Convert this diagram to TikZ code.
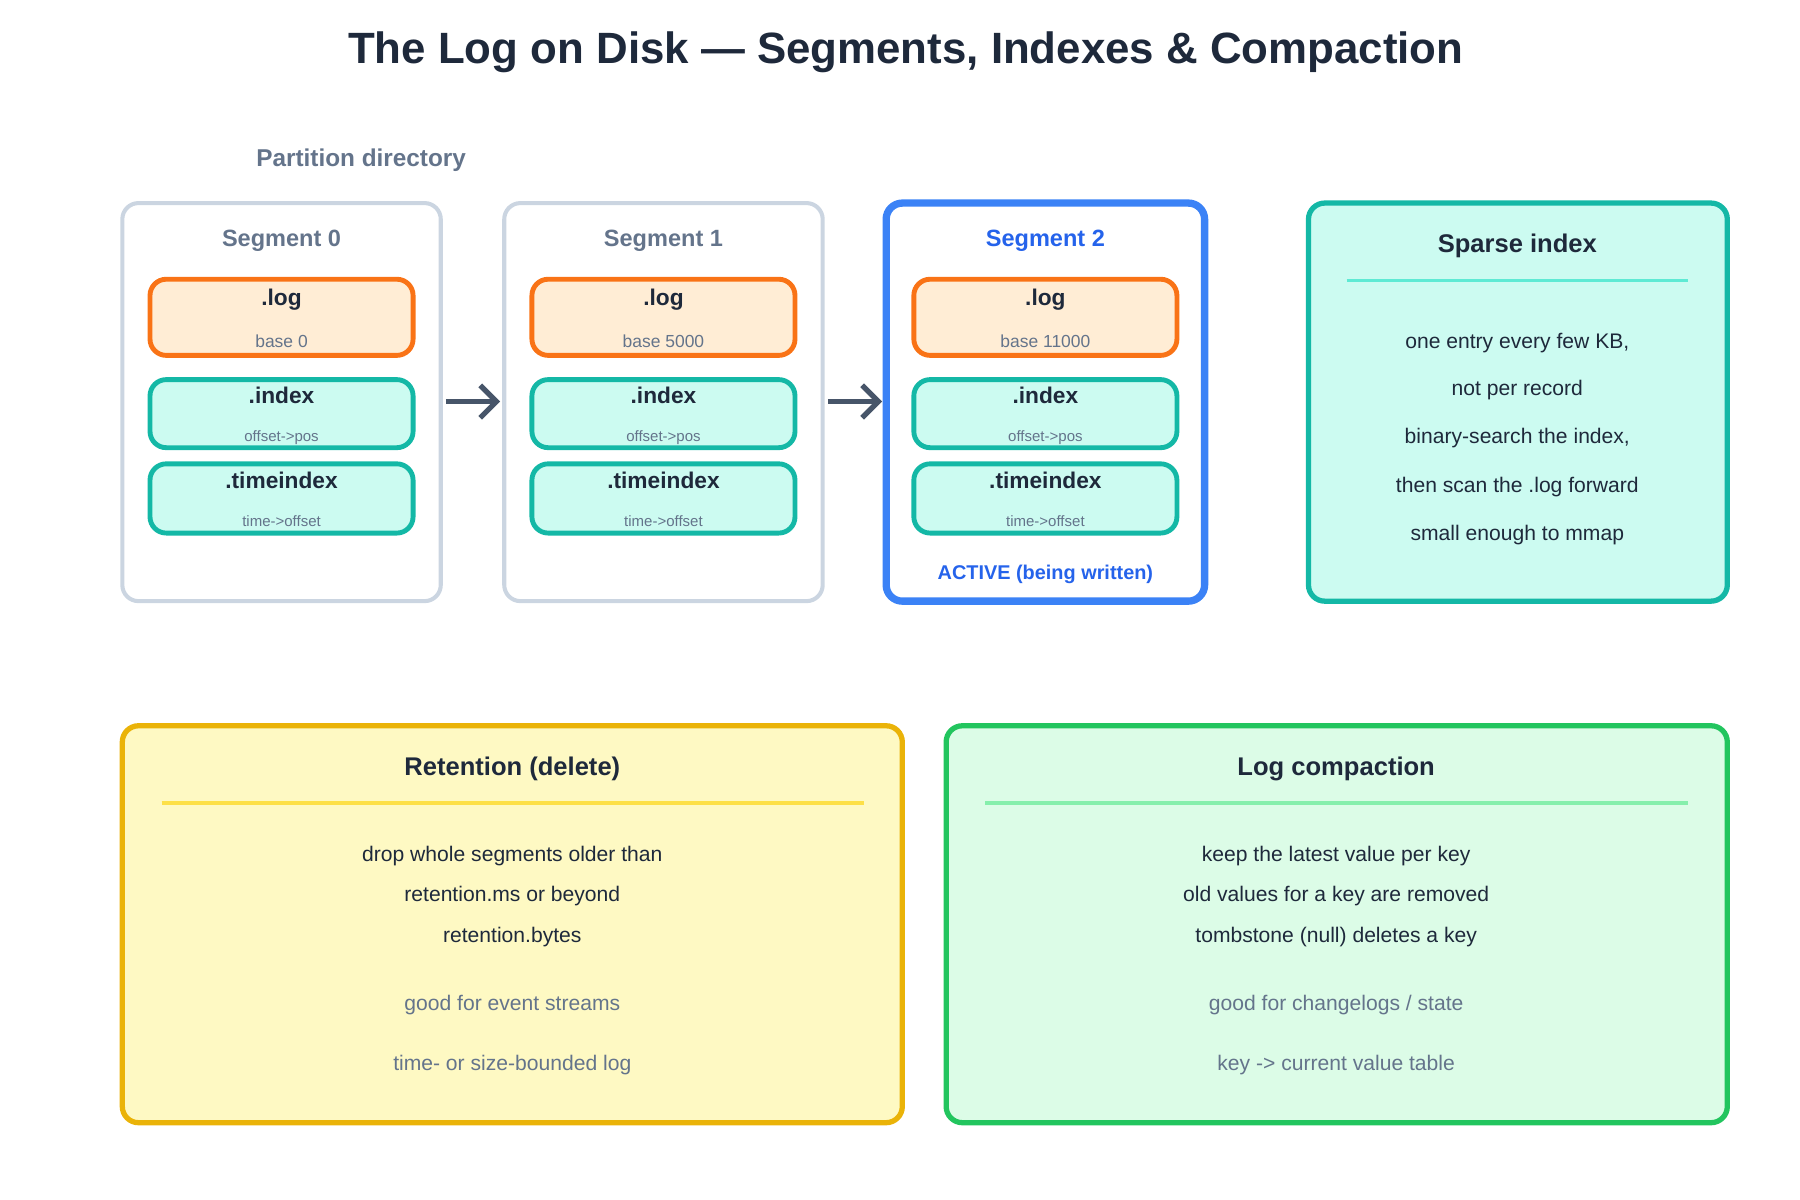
\documentclass[tikz,border=0pt]{standalone}
\usepackage{fontspec}
\setmainfont{Liberation Sans}
\usetikzlibrary{arrows.meta}
\definecolor{dark}{HTML}{1E293B}
\definecolor{gborder}{HTML}{CBD5E1}
\definecolor{gtext}{HTML}{64748B}
\definecolor{orB}{HTML}{F97316}\definecolor{orF}{HTML}{FFEDD5}
\definecolor{tlB}{HTML}{14B8A6}\definecolor{tlF}{HTML}{CCFBF1}\definecolor{tlL}{HTML}{5EEAD4}
\definecolor{blB}{HTML}{3B82F6}\definecolor{blT}{HTML}{2563EB}
\definecolor{ylB}{HTML}{EAB308}\definecolor{ylF}{HTML}{FEF9C3}\definecolor{ylL}{HTML}{FDE047}
\definecolor{grB}{HTML}{22C55E}\definecolor{grF}{HTML}{DCFCE7}\definecolor{grL}{HTML}{86EFAC}
\definecolor{arr}{HTML}{475569}
\begin{document}
\begin{tikzpicture}[x=0.01cm,y=-0.01cm,
  box/.style={rounded corners=4pt,line width=1.1pt},
  seg/.style={box,draw=gborder,line width=1pt},
  filebox/.style={box,line width=1.2pt},
  ttl/.style={font=\bfseries\fontsize{6.3}{7}\selectfont,text=dark},
  segl/.style={font=\bfseries\fontsize{5.8}{7}\selectfont,text=gtext},
  fname/.style={font=\bfseries\fontsize{5.6}{7}\selectfont,text=dark},
  fsub/.style={font=\fontsize{4.3}{5}\selectfont,text=gtext},
  fsmall/.style={font=\fontsize{3.7}{4.5}\selectfont,text=gtext},
  body/.style={font=\fontsize{5.2}{6}\selectfont,text=dark},
  gbody/.style={font=\fontsize{5.2}{6}\selectfont,text=gtext},
  ar/.style={-{Straight Barb[length=4pt,width=8pt,line width=1.3pt]},draw=arr,line width=1.3pt,shorten >=1pt,shorten <=1pt}]
\useasboundingbox (0,0) rectangle (1560,1040);
\node[font=\bfseries\fontsize{10.8}{12}\selectfont,text=dark] (title) at (785,45) {The Log on Disk — Segments, Indexes \& Compaction};
\node[font=\bfseries\fontsize{6}{7}\selectfont,text=gtext] (pd) at (313,139) {Partition directory};
% segments
\foreach \i/\x/\b in {0/106/0,1/437/5000,2/768/11000}{
  \ifnum\i=2
    \draw[box,draw=blB,line width=1.8pt,fill=white] (\x,176) rectangle ++(276,345);
    \node[segl,text=blT] (s\i) at (\x+138,209) {Segment \i};
  \else
    \draw[seg] (\x,176) rectangle ++(276,345);
    \node[segl] (s\i) at (\x+138,209) {Segment \i};
  \fi
  \draw[filebox,draw=orB,fill=orF] (\x+24,242) rectangle ++(228,66);
  \node[fname] (l\i) at (\x+138,260) {.log};
  \node[fsub] (lb\i) at (\x+138,296) {base \b};
  \draw[filebox,draw=tlB,fill=tlF] (\x+24,329) rectangle ++(228,59);
  \node[fname] (ix\i) at (\x+138,343) {.index};
  \node[fsmall] (ixs\i) at (\x+138,379) {offset->pos};
  \draw[filebox,draw=tlB,fill=tlF] (\x+24,402) rectangle ++(228,60);
  \node[fname] (ti\i) at (\x+138,416) {.timeindex};
  \node[fsmall] (tis\i) at (\x+138,452) {time->offset};
}
\node[font=\bfseries\fontsize{4.9}{6}\selectfont,text=blT] (act) at (906,498) {ACTIVE (being written)};
\coordinate (a0) at (383,348); \coordinate (b0) at (437,348);
\coordinate (a1) at (714,348); \coordinate (b1) at (768,348);
\draw[ar] (a0) -- (b0); \draw[ar] (a1) -- (b1);
% sparse index
\draw[box,draw=tlB,fill=tlF,line width=1.3pt] (1134,176) rectangle (1497,521);
\node[ttl] (sp) at (1315,213) {Sparse index};
\draw[tlL,line width=0.8pt] (1167,243) -- (1463,243);
\node[body] (sp1) at (1315,297) {one entry every few KB,};
\node[body] (sp2) at (1315,338) {not per record};
\node[body] (sp3) at (1315,380) {binary-search the index,};
\node[body] (sp4) at (1315,422) {then scan the .log forward};
\node[body] (sp5) at (1315,464) {small enough to mmap};
% retention
\draw[box,draw=ylB,fill=ylF,line width=1.3pt] (106,629) rectangle (782,973);
\node[ttl] (rt) at (444,666) {Retention (delete)};
\draw[ylL,line width=0.8pt] (140,696) -- (749,696);
\node[body] (r1) at (444,742) {drop whole segments older than};
\node[body] (r2) at (444,777) {retention.ms or beyond};
\node[body] (r3) at (444,812) {retention.bytes};
\node[gbody] (r4) at (444,871) {good for event streams};
\node[gbody] (r5) at (444,923) {time- or size-bounded log};
% compaction
\draw[box,draw=grB,fill=grF,line width=1.3pt] (820,629) rectangle (1497,973);
\node[ttl] (lc) at (1158,666) {Log compaction};
\draw[grL,line width=0.8pt] (854,696) -- (1463,696);
\node[body] (c1) at (1158,742) {keep the latest value per key};
\node[body] (c2) at (1158,777) {old values for a key are removed};
\node[body] (c3) at (1158,812) {tombstone (null) deletes a key};
\node[gbody] (c4) at (1158,871) {good for changelogs / state};
\node[gbody] (c5) at (1158,923) {key -> current value table};
\end{tikzpicture}
\end{document}
